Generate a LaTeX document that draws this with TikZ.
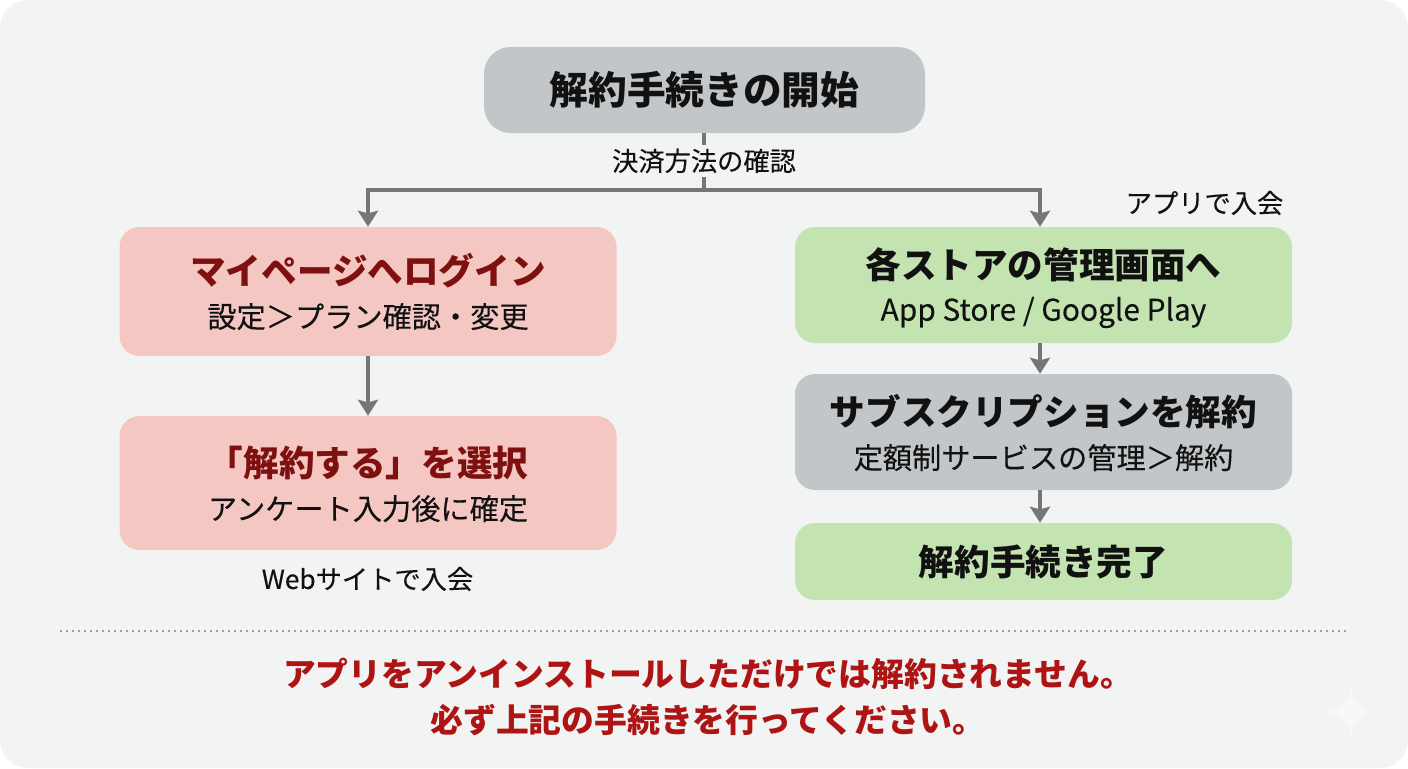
\documentclass[tikz,border=0pt]{standalone}
\usepackage{fontspec}
\setmainfont{Noto Sans CJK JP}
\newfontfamily\regfam[FakeBold=0.2]{Noto Sans CJK JP}
\usetikzlibrary{arrows.meta,positioning,calc}
\definecolor{pagebg}{HTML}{F2F4F4}
\definecolor{greybox}{HTML}{C3C6C8}
\definecolor{pinkbox}{HTML}{F5C7C3}
\definecolor{greenbox}{HTML}{C3E3B0}
\definecolor{linegrey}{HTML}{757777}
\definecolor{darkred}{HTML}{7E1010}
\definecolor{alertred}{HTML}{AE1414}
\definecolor{inkblack}{HTML}{111111}
\definecolor{starwhite}{HTML}{F8F8F9}
\newcommand{\ttlfont}{\fontsize{26.7}{30}\selectfont\bfseries}
\newcommand{\subfont}{\regfam\fontsize{21.9}{30}\selectfont}
\newcommand{\latfont}{\regfam\fontsize{22.4}{30}\selectfont}
\newcommand{\lowerline}[2]{\raisebox{-#1}[\height][\depth]{#2}}
\tikzset{
  flowbox/.style={rounded corners=15pt,inner sep=0pt,align=center,text=inkblack,minimum width=372.75pt},
  pinkstyle/.style={flowbox,fill=pinkbox},
  greenstyle/.style={flowbox,fill=greenbox},
  greystyle/.style={flowbox,fill=greybox},
  flowline/.style={draw=linegrey,line width=2.5pt},
  flowarrow/.style={flowline,-{Stealth[length=12pt,width=15pt,inset=2pt]}},
  caption/.style={inner sep=0pt,text=inkblack,font=\regfam\fontsize{19.7}{24}\selectfont},
  alert/.style={inner sep=0pt,align=center,text=alertred,font=\fontsize{24.6}{34.5}\selectfont\bfseries}
}
\begin{document}
\begin{tikzpicture}[x=0.75pt,y=-0.75pt]
\useasboundingbox (0,0) rectangle (1408,768);
\fill[white] (0,0) rectangle (1408,768);
\fill[pagebg,rounded corners=21pt] (0,0) rectangle (1408,768);
% star
\fill[starwhite] (1351,688) .. controls (1354,703) and (1360,709) .. (1375,712)
  .. controls (1360,715) and (1354,721) .. (1351,736)
  .. controls (1348,721) and (1342,715) .. (1327,712)
  .. controls (1342,709) and (1348,703) .. (1351,688) -- cycle;
% boxes
\node[greystyle,rounded corners=20pt,minimum width=330.75pt,minimum height=64.5pt,font=\fontsize{29}{34}\selectfont\bfseries] (start) at (704.5,90) {\raisebox{-1.2pt}{解約手続きの開始}};
\node[pinkstyle,minimum height=96.75pt,text=inkblack] (login) at (368,291.5) {{\ttlfont\color{darkred} マイページへログイン}\\[10.5pt]{\subfont 設定＞プラン確認・変更}};
\node[pinkstyle,minimum height=100.5pt] (select) at (368,483) {{\ttlfont\color{darkred}\lowerline{0.75pt}{「解約する」を選択}}\\[10.5pt]{\subfont\lowerline{0.75pt}{アンケート入力後に確定}}};
\node[greenstyle,minimum height=87pt] (store) at (1043.5,285) {{\ttlfont\lowerline{2.25pt}{各ストアの管理画面へ}}\\[10pt]{\latfont\lowerline{2.25pt}{App Store / Google Play}}};
\node[greystyle,minimum height=87pt] (subs) at (1043.5,432) {{\ttlfont\lowerline{0.75pt}{サブスクリプションを解約}}\\[10pt]{\subfont\lowerline{0.75pt}{定額制サービスの管理＞解約}}};
\node[greenstyle,minimum height=57.75pt] (done) at (1043.5,561.5) {{\ttlfont 解約手続き完了}};
% connectors
\coordinate (branch) at (704,190);
\coordinate (leftturn) at (368,190);
\coordinate (rightturn) at (1040,190);
\draw[flowline] (start.south -| branch) -- (branch);
\draw[flowarrow,line join=miter] (branch) -- (leftturn) -- (login.north);
\draw[flowarrow,line join=miter] (branch) -- (rightturn) -- (rightturn |- store.north);
\node[caption,fill=pagebg,inner xsep=3pt,inner ysep=3pt] (method) at (704,161) {決済方法の確認};
\draw[flowarrow] (login) -- (select);
\draw[flowarrow] (store.south -| rightturn) -- (subs.north -| rightturn);
\draw[flowarrow] (subs.south -| rightturn) -- (done.north -| rightturn);
% captions
\node[caption] (appjoin) at (1204.5,203) {アプリで入会};
\node[caption] (webjoin) at (367.5,579) {Webサイトで入会};
% separator
\coordinate (sepl) at (60,631);
\coordinate (sepr) at (1347,631);
\draw[draw=linegrey!70,line width=1.5pt,line cap=butt,dash pattern=on 1.5pt off 3pt] (sepl) -- (sepr);
% warning
\node[alert] (warning) at (708,697) {アプリをアンインストールしただけでは解約されません。\\必ず上記の手続きを行ってください。};
\end{tikzpicture}
\end{document}
